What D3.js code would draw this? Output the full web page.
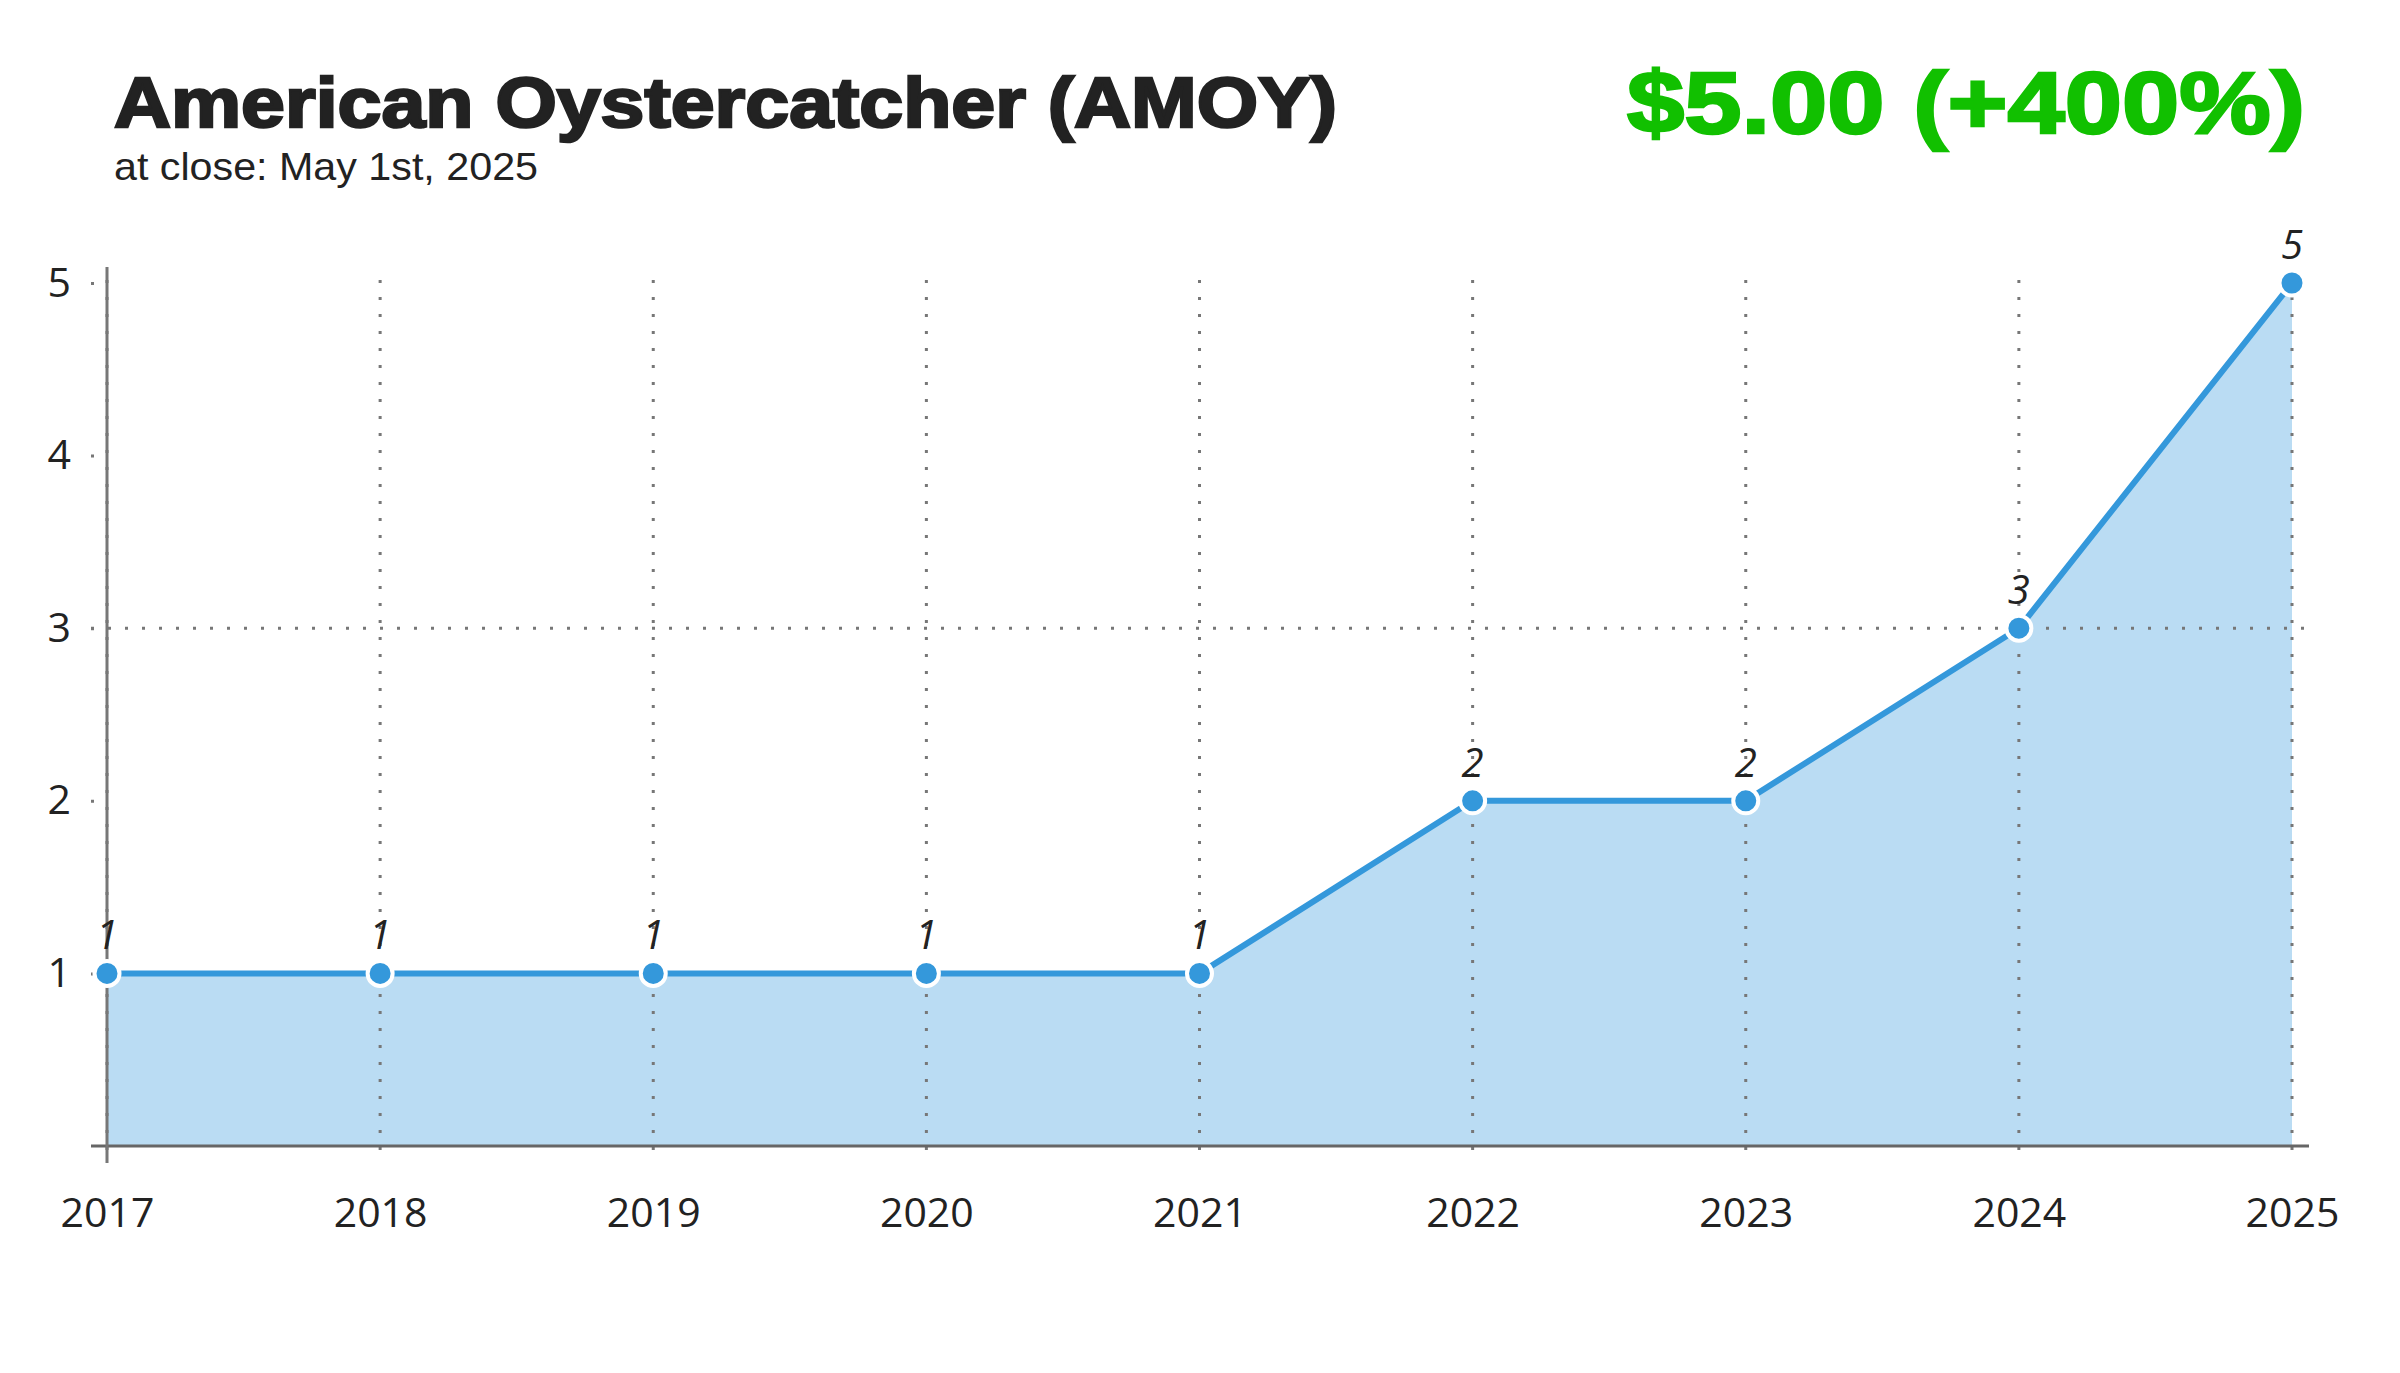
<!DOCTYPE html>
<html>
<head>
<meta charset="utf-8">
<script src="https://cdn.jsdelivr.net/npm/d3@7"></script>
<style>
  body { margin: 0; background: #fff; }
  svg { display: block; }
</style>
</head>
<body>
<svg id="chart" width="2400" height="1373"></svg>
<script>
// Data
var years = ["2017", "2018", "2019", "2020", "2021", "2022", "2023", "2024", "2025"];
var counts = [1, 1, 1, 1, 1, 2, 2, 3, 5];
var yTicks = [1, 2, 3, 4, 5];
var refValue = 3; // the one dotted horizontal line

var titleText = "American Oystercatcher (AMOY)";
var subtitleText = "at close: May 1st, 2025";
var priceText = "$5.00 (+400%)";

var data = years.map((d, i) => ({ year: d, value: counts[i] }));

var svgWidth = 2400;
var svgHeight = 1373;
var margin = { top: 283, right: 108, bottom: 227, left: 107 };
var innerW = svgWidth - margin.left - margin.right;
var innerH = svgHeight - margin.top - margin.bottom;

var lineColor = "#3498db";
var dotColor = "#777";

var svg = d3.select("#chart");

// Titles (a thin stroke to get the heavy look of the original)
svg.append("text")
    .attr("x", 114).attr("y", 127)
    .attr("textLength", 1223).attr("lengthAdjust", "spacingAndGlyphs")
    .style("font-family", "'Liberation Sans', Arial, sans-serif")
    .style("font-weight", "bold")
    .style("font-size", "70px")
    .style("fill", "#222")
    .style("stroke", "#222")
    .style("stroke-width", 2.5)
    .text(titleText);

svg.append("text")
    .attr("x", 114).attr("y", 180)
    .attr("textLength", 424).attr("lengthAdjust", "spacingAndGlyphs")
    .style("font-family", "'Liberation Sans', Arial, sans-serif")
    .style("font-size", "39px")
    .style("fill", "#222")
    .text(subtitleText);

svg.append("text")
    .attr("x", 1627).attr("y", 133)
    .attr("textLength", 678).attr("lengthAdjust", "spacingAndGlyphs")
    .style("font-family", "'Liberation Sans', Arial, sans-serif")
    .style("font-weight", "bold")
    .style("font-size", "88px")
    .style("fill", "#11c000")
    .style("stroke", "#11c000")
    .style("stroke-width", 2.5)
    .text(priceText);

var g = svg.append("g")
    .attr("transform", "translate(" + margin.left + "," + margin.top + ")");

// Scales
var xScale = d3.scalePoint().domain(years).range([0, innerW]);
var yScale = d3.scaleLinear().domain([0, 5]).range([innerH, 0]);

// Area under the line
var area = d3.area()
    .x(d => xScale(d.year))
    .y0(yScale(0))
    .y1(d => yScale(d.value));

g.append("path")
    .datum(data)
    .attr("d", area)
    .attr("fill", lineColor)
    .attr("fill-opacity", 0.34);

// Vertical dotted grid lines (extend below the axis like ticks)
g.selectAll(".vgrid")
    .data(years)
    .enter().append("line")
    .attr("class", "vgrid")
    .attr("x1", d => xScale(d)).attr("x2", d => xScale(d))
    .attr("y1", yScale(5) - 3).attr("y2", yScale(0) + 17)
    .attr("stroke", dotColor)
    .attr("stroke-width", 3)
    .attr("stroke-dasharray", "3 14");

// Horizontal dotted line at 3
g.append("line")
    .attr("x1", -16).attr("x2", innerW + 13)
    .attr("y1", yScale(refValue)).attr("y2", yScale(refValue))
    .attr("stroke", dotColor)
    .attr("stroke-width", 3)
    .attr("stroke-dasharray", "3 14");

// X axis labels
var xAxis = d3.axisBottom(xScale).tickSize(0).tickPadding(52);
var xg = g.append("g")
    .attr("transform", "translate(0," + innerH + ")")
    .call(xAxis);
xg.select(".domain").remove();
xg.selectAll("text")
    .style("font-family", "'Open Sans', sans-serif")
    .style("font-size", "41px")
    .style("fill", "#222");

// Y axis labels with dotted short ticks
var yAxis = d3.axisLeft(yScale).tickValues(yTicks).tickFormat(d3.format("d"))
    .tickSize(16).tickPadding(20);
var yg = g.append("g").call(yAxis);
yg.select(".domain").remove();
yg.selectAll(".tick line")
    .attr("stroke", dotColor)
    .attr("stroke-width", 3)
    .attr("stroke-dasharray", "0 13 3 1");
yg.selectAll("text")
    .style("font-family", "'Open Sans', sans-serif")
    .style("font-size", "41px")
    .style("fill", "#222");

// Axis lines
g.append("line")
    .attr("x1", -16).attr("x2", innerW + 17)
    .attr("y1", yScale(0)).attr("y2", yScale(0))
    .attr("stroke", "#666").attr("stroke-width", 3);
g.append("line")
    .attr("x1", 0).attr("x2", 0)
    .attr("y1", yScale(5) - 16).attr("y2", yScale(0) + 17)
    .attr("stroke", "#777").attr("stroke-width", 3);

// Line
var line = d3.line()
    .x(d => xScale(d.year))
    .y(d => yScale(d.value));

g.append("path")
    .datum(data)
    .attr("d", line)
    .attr("fill", "none")
    .attr("stroke", lineColor)
    .attr("stroke-width", 6);

// Points
g.selectAll(".pt")
    .data(data)
    .enter().append("circle")
    .attr("class", "pt")
    .attr("cx", d => xScale(d.year))
    .attr("cy", d => yScale(d.value))
    .attr("r", 12.5)
    .attr("fill", lineColor)
    .attr("stroke", "#fff")
    .attr("stroke-width", 4);

// Value labels
g.selectAll(".val")
    .data(data)
    .enter().append("text")
    .attr("class", "val")
    .attr("x", d => xScale(d.year))
    .attr("y", d => yScale(d.value) - 24)
    .attr("text-anchor", "middle")
    .style("font-family", "'Open Sans', sans-serif")
    .style("font-style", "italic")
    .style("font-size", "40px")
    .style("fill", "#222")
    .text(d => d.value);
</script>
</body>
</html>
